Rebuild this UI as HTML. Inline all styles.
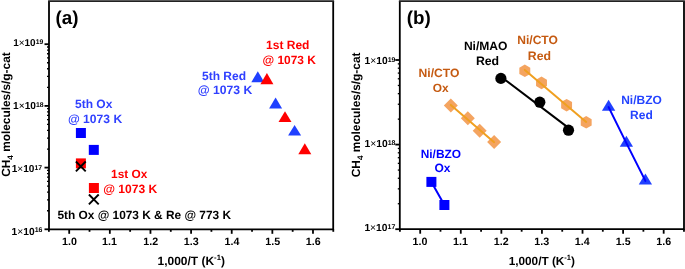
<!DOCTYPE html>
<html><head><meta charset="utf-8"><style>
html,body{margin:0;padding:0;background:#fff;}
svg{display:block;will-change:transform;}
text{font-family:"Liberation Sans",sans-serif;font-weight:bold;text-rendering:geometricPrecision;}
</style></head><body>
<svg width="685" height="269" viewBox="0 0 685 269">
<rect width="685" height="269" fill="#fff"/>
<path d="M49.0,229.3V1.1M333.2,1.1V229.3H49.0" fill="none" stroke="#000" stroke-width="1.8"/>
<path d="M48.1,1.115H334.09999999999997" fill="none" stroke="#222" stroke-width="1.77"/>
<line x1="44.5" y1="229.30" x2="49.0" y2="229.30" stroke="#000" stroke-width="1.8"/>
<line x1="47.0" y1="210.73" x2="49.0" y2="210.73" stroke="#000" stroke-width="1.3"/>
<line x1="47.0" y1="199.86" x2="49.0" y2="199.86" stroke="#000" stroke-width="1.3"/>
<line x1="47.0" y1="192.15" x2="49.0" y2="192.15" stroke="#000" stroke-width="1.3"/>
<line x1="47.0" y1="186.17" x2="49.0" y2="186.17" stroke="#000" stroke-width="1.3"/>
<line x1="47.0" y1="181.29" x2="49.0" y2="181.29" stroke="#000" stroke-width="1.3"/>
<line x1="47.0" y1="177.16" x2="49.0" y2="177.16" stroke="#000" stroke-width="1.3"/>
<line x1="47.0" y1="173.58" x2="49.0" y2="173.58" stroke="#000" stroke-width="1.3"/>
<line x1="47.0" y1="170.42" x2="49.0" y2="170.42" stroke="#000" stroke-width="1.3"/>
<line x1="44.5" y1="167.60" x2="49.0" y2="167.60" stroke="#000" stroke-width="1.8"/>
<line x1="47.0" y1="149.03" x2="49.0" y2="149.03" stroke="#000" stroke-width="1.3"/>
<line x1="47.0" y1="138.16" x2="49.0" y2="138.16" stroke="#000" stroke-width="1.3"/>
<line x1="47.0" y1="130.45" x2="49.0" y2="130.45" stroke="#000" stroke-width="1.3"/>
<line x1="47.0" y1="124.47" x2="49.0" y2="124.47" stroke="#000" stroke-width="1.3"/>
<line x1="47.0" y1="119.59" x2="49.0" y2="119.59" stroke="#000" stroke-width="1.3"/>
<line x1="47.0" y1="115.46" x2="49.0" y2="115.46" stroke="#000" stroke-width="1.3"/>
<line x1="47.0" y1="111.88" x2="49.0" y2="111.88" stroke="#000" stroke-width="1.3"/>
<line x1="47.0" y1="108.72" x2="49.0" y2="108.72" stroke="#000" stroke-width="1.3"/>
<line x1="44.5" y1="105.90" x2="49.0" y2="105.90" stroke="#000" stroke-width="1.8"/>
<line x1="47.0" y1="87.33" x2="49.0" y2="87.33" stroke="#000" stroke-width="1.3"/>
<line x1="47.0" y1="76.46" x2="49.0" y2="76.46" stroke="#000" stroke-width="1.3"/>
<line x1="47.0" y1="68.75" x2="49.0" y2="68.75" stroke="#000" stroke-width="1.3"/>
<line x1="47.0" y1="62.77" x2="49.0" y2="62.77" stroke="#000" stroke-width="1.3"/>
<line x1="47.0" y1="57.89" x2="49.0" y2="57.89" stroke="#000" stroke-width="1.3"/>
<line x1="47.0" y1="53.76" x2="49.0" y2="53.76" stroke="#000" stroke-width="1.3"/>
<line x1="47.0" y1="50.18" x2="49.0" y2="50.18" stroke="#000" stroke-width="1.3"/>
<line x1="47.0" y1="47.02" x2="49.0" y2="47.02" stroke="#000" stroke-width="1.3"/>
<line x1="44.5" y1="44.20" x2="49.0" y2="44.20" stroke="#000" stroke-width="1.8"/>
<line x1="48.88" y1="229.3" x2="48.88" y2="231.8" stroke="#000" stroke-width="1.8"/>
<line x1="69.20" y1="229.3" x2="69.20" y2="233.8" stroke="#000" stroke-width="1.8"/>
<line x1="89.52" y1="229.3" x2="89.52" y2="231.8" stroke="#000" stroke-width="1.8"/>
<line x1="109.83" y1="229.3" x2="109.83" y2="233.8" stroke="#000" stroke-width="1.8"/>
<line x1="130.14" y1="229.3" x2="130.14" y2="231.8" stroke="#000" stroke-width="1.8"/>
<line x1="150.46" y1="229.3" x2="150.46" y2="233.8" stroke="#000" stroke-width="1.8"/>
<line x1="170.78" y1="229.3" x2="170.78" y2="231.8" stroke="#000" stroke-width="1.8"/>
<line x1="191.09" y1="229.3" x2="191.09" y2="233.8" stroke="#000" stroke-width="1.8"/>
<line x1="211.41" y1="229.3" x2="211.41" y2="231.8" stroke="#000" stroke-width="1.8"/>
<line x1="231.72" y1="229.3" x2="231.72" y2="233.8" stroke="#000" stroke-width="1.8"/>
<line x1="252.03" y1="229.3" x2="252.03" y2="231.8" stroke="#000" stroke-width="1.8"/>
<line x1="272.35" y1="229.3" x2="272.35" y2="233.8" stroke="#000" stroke-width="1.8"/>
<line x1="292.67" y1="229.3" x2="292.67" y2="231.8" stroke="#000" stroke-width="1.8"/>
<line x1="312.98" y1="229.3" x2="312.98" y2="233.8" stroke="#000" stroke-width="1.8"/>
<line x1="333.29" y1="229.3" x2="333.29" y2="231.8" stroke="#000" stroke-width="1.8"/>
<path d="M399.8,229.2V1.1M684.0,1.1V229.2H399.8" fill="none" stroke="#000" stroke-width="1.8"/>
<path d="M398.90000000000003,1.115H684.9" fill="none" stroke="#222" stroke-width="1.77"/>
<line x1="395.3" y1="229.20" x2="399.8" y2="229.20" stroke="#000" stroke-width="1.8"/>
<line x1="397.8" y1="203.73" x2="399.8" y2="203.73" stroke="#000" stroke-width="1.3"/>
<line x1="397.8" y1="188.84" x2="399.8" y2="188.84" stroke="#000" stroke-width="1.3"/>
<line x1="397.8" y1="178.27" x2="399.8" y2="178.27" stroke="#000" stroke-width="1.3"/>
<line x1="397.8" y1="170.07" x2="399.8" y2="170.07" stroke="#000" stroke-width="1.3"/>
<line x1="397.8" y1="163.37" x2="399.8" y2="163.37" stroke="#000" stroke-width="1.3"/>
<line x1="397.8" y1="157.70" x2="399.8" y2="157.70" stroke="#000" stroke-width="1.3"/>
<line x1="397.8" y1="152.80" x2="399.8" y2="152.80" stroke="#000" stroke-width="1.3"/>
<line x1="397.8" y1="148.47" x2="399.8" y2="148.47" stroke="#000" stroke-width="1.3"/>
<line x1="395.3" y1="144.60" x2="399.8" y2="144.60" stroke="#000" stroke-width="1.8"/>
<line x1="397.8" y1="119.13" x2="399.8" y2="119.13" stroke="#000" stroke-width="1.3"/>
<line x1="397.8" y1="104.24" x2="399.8" y2="104.24" stroke="#000" stroke-width="1.3"/>
<line x1="397.8" y1="93.67" x2="399.8" y2="93.67" stroke="#000" stroke-width="1.3"/>
<line x1="397.8" y1="85.47" x2="399.8" y2="85.47" stroke="#000" stroke-width="1.3"/>
<line x1="397.8" y1="78.77" x2="399.8" y2="78.77" stroke="#000" stroke-width="1.3"/>
<line x1="397.8" y1="73.10" x2="399.8" y2="73.10" stroke="#000" stroke-width="1.3"/>
<line x1="397.8" y1="68.20" x2="399.8" y2="68.20" stroke="#000" stroke-width="1.3"/>
<line x1="397.8" y1="63.87" x2="399.8" y2="63.87" stroke="#000" stroke-width="1.3"/>
<line x1="395.3" y1="60.00" x2="399.8" y2="60.00" stroke="#000" stroke-width="1.8"/>
<line x1="399.91" y1="229.2" x2="399.91" y2="231.7" stroke="#000" stroke-width="1.8"/>
<line x1="420.20" y1="229.2" x2="420.20" y2="233.7" stroke="#000" stroke-width="1.8"/>
<line x1="440.49" y1="229.2" x2="440.49" y2="231.7" stroke="#000" stroke-width="1.8"/>
<line x1="460.78" y1="229.2" x2="460.78" y2="233.7" stroke="#000" stroke-width="1.8"/>
<line x1="481.07" y1="229.2" x2="481.07" y2="231.7" stroke="#000" stroke-width="1.8"/>
<line x1="501.36" y1="229.2" x2="501.36" y2="233.7" stroke="#000" stroke-width="1.8"/>
<line x1="521.65" y1="229.2" x2="521.65" y2="231.7" stroke="#000" stroke-width="1.8"/>
<line x1="541.94" y1="229.2" x2="541.94" y2="233.7" stroke="#000" stroke-width="1.8"/>
<line x1="562.23" y1="229.2" x2="562.23" y2="231.7" stroke="#000" stroke-width="1.8"/>
<line x1="582.52" y1="229.2" x2="582.52" y2="233.7" stroke="#000" stroke-width="1.8"/>
<line x1="602.81" y1="229.2" x2="602.81" y2="231.7" stroke="#000" stroke-width="1.8"/>
<line x1="623.10" y1="229.2" x2="623.10" y2="233.7" stroke="#000" stroke-width="1.8"/>
<line x1="643.39" y1="229.2" x2="643.39" y2="231.7" stroke="#000" stroke-width="1.8"/>
<line x1="663.68" y1="229.2" x2="663.68" y2="233.7" stroke="#000" stroke-width="1.8"/>
<line x1="683.97" y1="229.2" x2="683.97" y2="231.7" stroke="#000" stroke-width="1.8"/>
<rect x="75.90" y="128.00" width="10" height="10" fill="#0000ff"/>
<rect x="88.80" y="144.90" width="10" height="10" fill="#0000ff"/>
<rect x="75.90" y="158.40" width="10" height="10" fill="#ff0000"/>
<rect x="88.90" y="183.00" width="10" height="10" fill="#ff0000"/>
<path d="M75.90,161.50L85.70,171.30M85.70,161.50L75.90,171.30" stroke="#000" stroke-width="1.9"/>
<path d="M88.90,194.50L98.70,204.30M98.70,194.50L88.90,204.30" stroke="#000" stroke-width="1.9"/>
<polygon points="257.80,71.30 264.30,82.20 251.30,82.20" fill="#2040ff"/>
<polygon points="266.90,73.00 273.40,84.20 260.40,84.20" fill="#ff0000"/>
<polygon points="275.60,97.50 282.10,108.40 269.10,108.40" fill="#2040ff"/>
<polygon points="285.00,111.20 291.50,121.90 278.50,121.90" fill="#ff0000"/>
<polygon points="294.60,125.00 301.10,135.60 288.10,135.60" fill="#2040ff"/>
<polygon points="304.80,143.30 311.30,154.30 298.30,154.30" fill="#ff0000"/>
<polygon points="450.8,98.4 457.8,105.4 450.8,112.4 443.8,105.4" fill="#f4a460"/>
<polygon points="467.8,111.2 474.8,118.2 467.8,125.2 460.8,118.2" fill="#f4a460"/>
<polygon points="479.7,123.80000000000001 486.7,130.8 479.7,137.8 472.7,130.8" fill="#f4a460"/>
<polygon points="494.1,135.0 501.1,142 494.1,149.0 487.1,142" fill="#f4a460"/>
<path d="M450.8,104.93L494.1,142.16" fill="none" stroke="#f0a020" stroke-width="2" stroke-linecap="round"/>
<path d="M500.9,76.71L568.5,127.91" fill="none" stroke="#000" stroke-width="2" stroke-linecap="round"/>
<circle cx="500.9" cy="78.4" r="5.6" fill="#000"/>
<circle cx="539.8" cy="102.2" r="5.6" fill="#000"/>
<circle cx="568.5" cy="130.2" r="5.6" fill="#000"/>
<polygon points="524.80,64.50 530.26,67.65 530.26,73.95 524.80,77.10 519.34,73.95 519.34,67.65" fill="#f4a460"/>
<polygon points="541.50,76.60 546.96,79.75 546.96,86.05 541.50,89.20 536.04,86.05 536.04,79.75" fill="#f4a460"/>
<polygon points="566.60,98.90 572.06,102.05 572.06,108.35 566.60,111.50 561.14,108.35 561.14,102.05" fill="#f4a460"/>
<polygon points="586.20,116.00 591.66,119.15 591.66,125.45 586.20,128.60 580.74,125.45 580.74,119.15" fill="#f4a460"/>
<path d="M524.8,69.92L586.2,121.91" fill="none" stroke="#f0a020" stroke-width="2" stroke-linecap="round"/>
<polygon points="608.60,99.80 615.25,110.80 601.95,110.80" fill="#2040ff"/>
<polygon points="626.40,135.80 633.05,146.80 619.75,146.80" fill="#2040ff"/>
<polygon points="645.40,173.60 652.05,184.60 638.75,184.60" fill="#2040ff"/>
<path d="M608.6,107.1L626.4,143.1L645.4,180.9" fill="none" stroke="#0000ff" stroke-width="2" stroke-linecap="round"/>
<path d="M431.4,181.9L444.4,205" fill="none" stroke="#0000ff" stroke-width="2" stroke-linecap="round"/>
<rect x="426.40" y="176.90" width="10" height="10" fill="#0000ff"/>
<rect x="439.40" y="200.00" width="10" height="10" fill="#0000ff"/>
<text id="a_lbl" x="55.45" y="23.74" font-size="18.80" fill="#000">(a)</text>
<text id="a_y19" x="13.17" y="46.36" font-size="9.97" fill="#000">1<tspan font-weight="normal">×</tspan>10<tspan font-size="6.78" dy="-2.19">19</tspan></text>
<text id="a_y18" x="13.07" y="108.90" font-size="10.15" fill="#000">1<tspan font-weight="normal">×</tspan>10<tspan font-size="6.90" dy="-2.23">18</tspan></text>
<text id="a_y17" x="11.71" y="171.89" font-size="10.07" fill="#000">1<tspan font-weight="normal">×</tspan>10<tspan font-size="6.85" dy="-2.21">17</tspan></text>
<text id="a_y16" x="11.56" y="234.66" font-size="10.24" fill="#000">1<tspan font-weight="normal">×</tspan>10<tspan font-size="6.96" dy="-2.25">16</tspan></text>
<text id="a_x1.0" x="61.97" y="245.30" font-size="10.70" fill="#000">1.0</text>
<text id="a_x1.1" x="102.10" y="245.30" font-size="10.70" fill="#000">1.1</text>
<text id="a_x1.2" x="143.22" y="245.30" font-size="10.70" fill="#000">1.2</text>
<text id="a_x1.3" x="183.84" y="245.30" font-size="10.70" fill="#000">1.3</text>
<text id="a_x1.4" x="224.52" y="245.30" font-size="10.70" fill="#000">1.4</text>
<text id="a_x1.5" x="265.35" y="245.30" font-size="10.70" fill="#000">1.5</text>
<text id="a_x1.6" x="305.83" y="245.30" font-size="10.70" fill="#000">1.6</text>
<text id="a_xl" x="157.56" y="265.10" font-size="11.97" fill="#000">1,000/T (K<tspan font-size="7.66" dy="-5.03">-1</tspan><tspan dy="5.03">)</tspan></text>
<text id="a_yl" transform="translate(9.70,176.77) rotate(-90)" font-size="11.86" fill="#000">CH<tspan font-size="8.06" dy="3.32">4</tspan><tspan dy="-3.32"> molecules/s/g-cat</tspan></text>
<text id="a_t1" x="74.96" y="108.47" font-size="12.02" fill="#3040ff">5th Ox</text>
<text id="a_t2" x="67.95" y="123.08" font-size="12.12" fill="#3040ff">@ 1073 K</text>
<text id="a_t3" x="111.06" y="178.04" font-size="11.84" fill="#ff0000">1st Ox</text>
<text id="a_t4" x="103.21" y="192.88" font-size="12.09" fill="#ff0000">@ 1073 K</text>
<text id="a_t5" x="266.02" y="49.37" font-size="12.03" fill="#ff0000">1st Red</text>
<text id="a_t6" x="262.45" y="63.91" font-size="11.96" fill="#ff0000">@ 1073 K</text>
<text id="a_t7" x="202.01" y="80.08" font-size="12.01" fill="#3040ff">5th Red</text>
<text id="a_t8" x="197.79" y="94.42" font-size="12.18" fill="#3040ff">@ 1073 K</text>
<text id="a_t9" x="57.40" y="219.21" font-size="11.89" fill="#000">5th Ox @ 1073 K &amp; Re @ 773 K</text>
<text id="b_lbl" x="406.80" y="23.54" font-size="18.80" fill="#000">(b)</text>
<text id="b_y19" x="364.53" y="63.94" font-size="10.28" fill="#000">1<tspan font-weight="normal">×</tspan>10<tspan font-size="6.99" dy="-2.26">19</tspan></text>
<text id="b_y18" x="364.40" y="147.31" font-size="10.32" fill="#000">1<tspan font-weight="normal">×</tspan>10<tspan font-size="7.02" dy="-2.27">18</tspan></text>
<text id="b_y17" x="364.40" y="231.18" font-size="10.26" fill="#000">1<tspan font-weight="normal">×</tspan>10<tspan font-size="6.98" dy="-2.26">17</tspan></text>
<text id="b_x1.0" x="412.60" y="245.30" font-size="10.70" fill="#000">1.0</text>
<text id="b_x1.1" x="453.06" y="245.30" font-size="10.70" fill="#000">1.1</text>
<text id="b_x1.2" x="493.77" y="245.30" font-size="10.70" fill="#000">1.2</text>
<text id="b_x1.3" x="534.23" y="245.30" font-size="10.70" fill="#000">1.3</text>
<text id="b_x1.4" x="574.87" y="245.30" font-size="10.70" fill="#000">1.4</text>
<text id="b_x1.5" x="615.77" y="245.30" font-size="10.70" fill="#000">1.5</text>
<text id="b_x1.6" x="656.34" y="245.30" font-size="10.70" fill="#000">1.6</text>
<text id="b_xl" x="508.69" y="265.20" font-size="11.79" fill="#000">1,000/T (K<tspan font-size="7.54" dy="-4.95">-1</tspan><tspan dy="4.95">)</tspan></text>
<text id="b_yl" transform="translate(359.60,177.26) rotate(-90)" font-size="11.90" fill="#000">CH<tspan font-size="8.09" dy="3.33">4</tspan><tspan dy="-3.33"> molecules/s/g-cat</tspan></text>
<text id="b_t1" x="463.88" y="50.24" font-size="12.09" fill="#000">Ni/MAO</text>
<text id="b_t2" x="475.89" y="65.04" font-size="12.30" fill="#000">Red</text>
<text id="b_t3" x="418.59" y="77.24" font-size="12.14" fill="#c55a11">Ni/CTO</text>
<text id="b_t4" x="432.76" y="91.73" font-size="11.87" fill="#c55a11">Ox</text>
<text id="b_t5" x="517.25" y="43.97" font-size="12.06" fill="#c55a11">Ni/CTO</text>
<text id="b_t6" x="527.82" y="59.92" font-size="12.31" fill="#c55a11">Red</text>
<text id="b_t7" x="420.69" y="157.50" font-size="11.90" fill="#0000ff">Ni/BZO</text>
<text id="b_t8" x="434.38" y="172.08" font-size="12.02" fill="#0000ff">Ox</text>
<text id="b_t9" x="621.22" y="103.60" font-size="11.97" fill="#2444ff">Ni/BZO</text>
<text id="b_t10" x="630.08" y="118.99" font-size="12.00" fill="#2444ff">Red</text>
</svg>
</body></html>
